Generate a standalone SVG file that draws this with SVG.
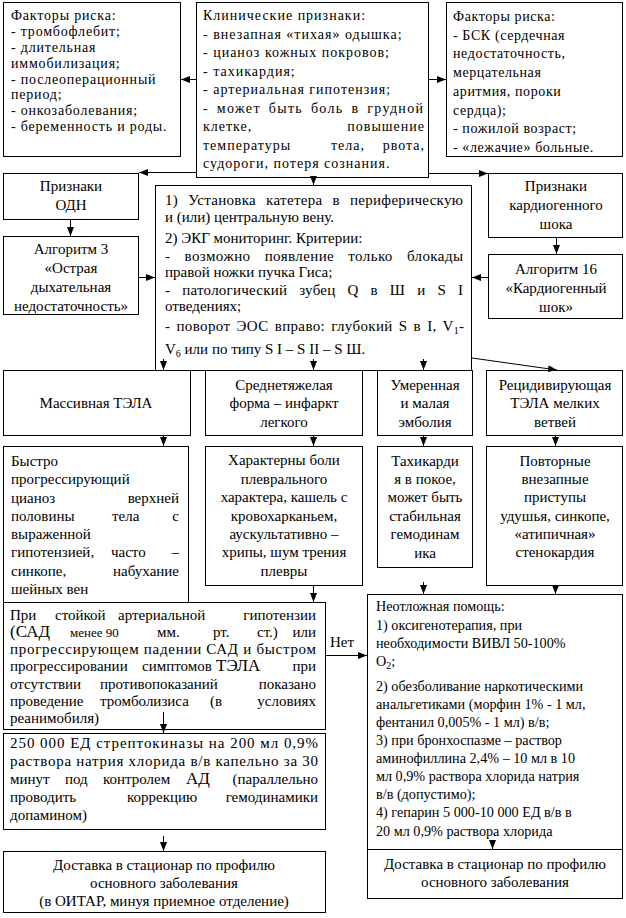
<svg xmlns="http://www.w3.org/2000/svg" width="626" height="918" viewBox="0 0 626 918">
<style>
rect{fill:#fff;stroke:#000;stroke-width:1}
text{font-family:'Liberation Serif','Times New Roman',serif;font-size:15px;fill:#000}
.s14{font-size:14px}
.em{font-size:14.2px}
.c{text-anchor:middle}
.e{text-anchor:end}
.ln{stroke:#000;stroke-width:1;fill:none;marker-end:url(#ah)}
.b1{letter-spacing:0.8px}
.b2{letter-spacing:1px}
.b3{letter-spacing:0.6px}
</style>
<defs>
<marker id="ah" markerWidth="9" markerHeight="7" refX="9" refY="3.5" orient="auto" markerUnits="userSpaceOnUse"><path d="M0,0 L9,3.5 L0,7 z" fill="#000"/></marker>
</defs>
<rect x="0" y="0" width="626" height="918" style="stroke:none"/>

<g id="n-risk1">
<rect x="3.5" y="2.5" width="177" height="154"/>
<text class="s14 b1"><tspan x="11" y="20">Факторы риска:</tspan><tspan x="11" y="36">- тромбофлебит;</tspan><tspan x="11" y="52">- длительная</tspan><tspan x="11" y="68">иммобилизация;</tspan><tspan x="11" y="84">- послеоперационный</tspan><tspan x="11" y="99">период;</tspan><tspan x="11" y="115">- онкозаболевания;</tspan><tspan x="11" y="131">- беременность и роды.</tspan></text>
</g>

<g id="n-clinic">
<rect x="196.5" y="2.5" width="232" height="175"/>
<text class="s14 b2"><tspan x="203" y="20">Клинические признаки:</tspan><tspan x="203" y="38.5">- внезапная «тихая» одышка;</tspan><tspan x="203" y="57">- цианоз кожных покровов;</tspan><tspan x="203" y="75.5">- тахикардия;</tspan><tspan x="203" y="94">- артериальная гипотензия;</tspan></text>
<text class="s14 b2" x="203" y="112.5" word-spacing="3" textLength="221" lengthAdjust="spacing">- может быть боль в грудной</text>
<text class="s14 b2" x="203" y="131">клетке,</text>
<text class="s14 b2 e" x="425" y="131">повышение</text>
<text class="s14 b2" x="203" y="149.5">температуры</text>
<text class="s14 b2" x="331" y="149.5">тела,</text>
<text class="s14 b2 e" x="425" y="149.5">рвота,</text>
<text class="s14 b2" x="203" y="168">судороги, потеря сознания.</text>
</g>

<g id="n-risk2">
<rect x="446.5" y="2.5" width="176" height="154"/>
<text class="s14 b3"><tspan x="453" y="21">Факторы риска:</tspan><tspan x="453" y="39.7">- БСК (сердечная</tspan><tspan x="453" y="58.4">недостаточность,</tspan><tspan x="453" y="77">мерцательная</tspan><tspan x="453" y="95.8">аритмия, пороки</tspan><tspan x="453" y="114.5">сердца);</tspan><tspan x="453" y="133">- пожилой возраст;</tspan><tspan x="453" y="152">- «лежачие» больные.</tspan></text>
</g>

<g id="n-odn">
<rect x="3.5" y="173.5" width="135" height="46"/>
<text class="c"><tspan x="71" y="191">Признаки</tspan><tspan x="71" y="210">ОДН</tspan></text>
</g>

<g id="n-alg3">
<rect x="3.5" y="236.5" width="135" height="78"/>
<text class="c"><tspan x="71" y="254">Алгоритм 3</tspan><tspan x="71" y="273">«Острая</tspan><tspan x="71" y="292">дыхательная</tspan><tspan x="71" y="311">недостаточность»</tspan></text>
</g>

<g id="n-actions">
<rect x="155.5" y="185.5" width="316" height="185"/>
<text x="165" y="205" word-spacing="6" textLength="298" lengthAdjust="spacing">1) Установка катетера в периферическую</text>
<text x="165" y="222">и (или) центральную вену.</text>
<text x="165" y="243">2) ЭКГ мониторинг. Критерии:</text>
<text x="165" y="261" word-spacing="10" textLength="298" lengthAdjust="spacing">- возможно появление только блокады</text>
<text x="165" y="277">правой ножки пучка Гиса;</text>
<text x="165" y="295" word-spacing="8" textLength="298" lengthAdjust="spacing">- патологический зубец Q в Ш и S I</text>
<text x="165" y="311">отведениях;</text>
<text x="165" y="331" word-spacing="2" textLength="299" lengthAdjust="spacing">- поворот ЭОС вправо: глубокий S в I, V<tspan font-size="10" dy="3">1</tspan><tspan dy="-3">-</tspan></text>
<text x="165" y="354">V<tspan font-size="10" dy="3">6</tspan><tspan dy="-3"> или по типу S I – S II – S Ш.</tspan></text>
</g>

<g id="n-cshock">
<rect x="488.5" y="173.5" width="134" height="64"/>
<text class="c"><tspan x="556" y="191">Признаки</tspan><tspan x="556" y="210">кардиогенного</tspan><tspan x="556" y="229">шока</tspan></text>
</g>

<g id="n-alg16">
<rect x="488.5" y="254.5" width="134" height="64"/>
<text class="c"><tspan x="556" y="274">Алгоритм 16</tspan><tspan x="556" y="293">«Кардиогенный</tspan><tspan x="556" y="312">шок»</tspan></text>
</g>

<g id="n-massive">
<rect x="3.5" y="370.5" width="187" height="65"/>
<text class="c" x="96" y="408">Массивная ТЭЛА</text>
</g>

<g id="n-submassive">
<rect x="205.5" y="370.5" width="157" height="65"/>
<text class="c"><tspan x="284" y="390">Среднетяжелая</tspan><tspan x="284" y="408">форма – инфаркт</tspan><tspan x="284" y="427">легкого</tspan></text>
</g>

<g id="n-small">
<rect x="377.5" y="370.5" width="95" height="65"/>
<text class="c"><tspan x="425" y="390">Умеренная</tspan><tspan x="425" y="408">и малая</tspan><tspan x="425" y="427">эмболия</tspan></text>
</g>

<g id="n-recurrent">
<rect x="486.5" y="370.5" width="136" height="65"/>
<text class="c"><tspan x="555" y="390">Рецидивирующая</tspan><tspan x="555" y="408">ТЭЛА мелких</tspan><tspan x="555" y="427">ветвей</tspan></text>
</g>

<g id="n-massive-sx">
<rect x="3.5" y="446.5" width="185" height="156"/>
<text x="11" y="466">Быстро</text>
<text x="11" y="484">прогрессирующий</text>
<text x="11" y="503">цианоз</text>
<text class="e" x="179" y="503">верхней</text>
<text x="11" y="521">половины</text>
<text x="112" y="521">тела</text>
<text class="e" x="179" y="521">с</text>
<text x="11" y="539">выраженной</text>
<text x="11" y="557">гипотензией,</text>
<text x="111" y="557">часто</text>
<text class="e" x="179" y="557">–</text>
<text x="11" y="576">синкопе,</text>
<text class="e" x="179" y="576">набухание</text>
<text x="11" y="594">шейных вен</text>
</g>

<g id="n-submassive-sx">
<rect x="205.5" y="446.5" width="157" height="139"/>
<text class="c"><tspan x="284" y="465">Характерны боли</tspan><tspan x="284" y="484">плеврального</tspan><tspan x="284" y="502">характера, кашель с</tspan><tspan x="284" y="521">кровохарканьем,</tspan><tspan x="284" y="539">аускультативно –</tspan><tspan x="284" y="557">хрипы, шум трения</tspan><tspan x="284" y="576">плевры</tspan></text>
</g>

<g id="n-small-sx">
<rect x="377.5" y="446.5" width="95" height="121"/>
<text class="c"><tspan x="425" y="466">Тахикарди</tspan><tspan x="425" y="484">я в покое,</tspan><tspan x="425" y="502">может быть</tspan><tspan x="425" y="521">стабильная</tspan><tspan x="425" y="539">гемодинам</tspan><tspan x="425" y="558">ика</tspan></text>
</g>

<g id="n-recurrent-sx">
<rect x="486.5" y="446.5" width="136" height="139"/>
<text class="c"><tspan x="555" y="466">Повторные</tspan><tspan x="555" y="484">внезапные</tspan><tspan x="555" y="502">приступы</tspan><tspan x="555" y="521">удушья, синкопе,</tspan><tspan x="555" y="539">«атипичная»</tspan><tspan x="555" y="557">стенокардия</tspan></text>
</g>

<g id="n-thrombolysis">
<rect x="3.5" y="602.5" width="322" height="127"/>
<text y="620"><tspan x="10">При</tspan><tspan x="55">стойкой</tspan><tspan x="118">артериальной</tspan></text>
<text class="e" x="316" y="620">гипотензии</text>
<text y="637"><tspan x="10" font-size="17">(САД</tspan><tspan x="70" font-size="13">менее 90</tspan><tspan x="157">мм.</tspan><tspan x="213">рт.</tspan><tspan x="257">ст.)</tspan></text>
<text class="e" x="316" y="637">или</text>
<text x="10" y="654" textLength="306" lengthAdjust="spacing">прогрессирующем падении САД и быстром</text>
<text y="671"><tspan x="10">прогрессировании</tspan><tspan x="142">симптомов</tspan><tspan x="216" font-size="17">ТЭЛА</tspan></text>
<text class="e" x="316" y="671">при</text>
<text y="689"><tspan x="10">отсутствии</tspan><tspan x="100">противопоказаний</tspan></text>
<text class="e" x="316" y="689">показано</text>
<text y="706"><tspan x="10">проведение</tspan><tspan x="100">тромболизиса</tspan><tspan x="210">(в</tspan></text>
<text class="e" x="316" y="706">условиях</text>
<text x="10" y="723">реанимобиля)</text>
</g>

<g id="n-streptokinase">
<rect x="3.5" y="733.5" width="322" height="96"/>
<text x="10" y="748" textLength="308" lengthAdjust="spacing">250 000 ЕД стрептокиназы на 200 мл 0,9%</text>
<text x="10" y="766" textLength="308" lengthAdjust="spacing">раствора натрия хлорида в/в капельно за 30</text>
<text y="784"><tspan x="10">минут</tspan><tspan x="65">под</tspan><tspan x="103">контролем</tspan><tspan x="186" font-size="17">АД</tspan></text>
<text class="e" x="318" y="784">(параллельно</text>
<text y="802"><tspan x="10">проводить</tspan><tspan x="127">коррекцию</tspan></text>
<text class="e" x="318" y="802">гемодинамики</text>
<text x="10" y="820">допамином)</text>
</g>

<g id="n-delivery1">
<rect x="3.5" y="851.5" width="322" height="61"/>
<text class="c"><tspan x="164" y="870">Доставка в стационар по профилю</tspan><tspan x="164" y="888">основного заболевания</tspan><tspan x="164" y="906">(в ОИТАР, минуя приемное отделение)</tspan></text>
</g>

<g id="n-emergency">
<rect x="367.5" y="594.5" width="255" height="255"/>
<text class="em"><tspan x="376" y="611">Неотложная помощь:</tspan><tspan x="376" y="630">1) оксигенотерапия, при</tspan><tspan x="376" y="648">необходимости ВИВЛ 50-100%</tspan><tspan x="376" y="666">O</tspan><tspan font-size="10" dy="3">2</tspan><tspan dy="-3">;</tspan><tspan x="376" y="691">2) обезболивание наркотическими</tspan><tspan x="376" y="709">анальгетиками (морфин 1% - 1 мл,</tspan><tspan x="376" y="727">фентанил 0,005%  - 1 мл) в/в;</tspan><tspan x="376" y="745">3) при бронхоспазме – раствор</tspan><tspan x="376" y="763">аминофиллина 2,4% – 10 мл в 10</tspan><tspan x="376" y="781">мл 0,9% раствора хлорида натрия</tspan><tspan x="376" y="799">в/в (допустимо);</tspan><tspan x="376" y="817">4) гепарин 5 000-10 000 ЕД в/в в</tspan><tspan x="376" y="836">20 мл 0,9% раствора хлорида</tspan></text>
</g>

<g id="n-delivery2">
<rect x="367.5" y="849.5" width="255" height="49"/>
<text class="c"><tspan x="495" y="869">Доставка в стационар по профилю</tspan><tspan x="495" y="887">основного заболевания</tspan></text>
</g>

<g id="connectors">
<line class="ln" x1="196" y1="79.5" x2="181" y2="79.5"/>
<line class="ln" x1="429" y1="79.5" x2="446" y2="79.5"/>
<line class="ln" x1="196" y1="172.5" x2="139" y2="172.5"/>
<line class="ln" x1="429" y1="173.5" x2="488" y2="173.5"/>
<line class="ln" x1="313.5" y1="178" x2="313.5" y2="185"/>
<line class="ln" x1="70.5" y1="220" x2="70.5" y2="236"/>
<line class="ln" x1="139" y1="277.5" x2="155" y2="277.5"/>
<line class="ln" x1="556.5" y1="238" x2="556.5" y2="254"/>
<line class="ln" x1="488" y1="277.5" x2="472" y2="277.5"/>
<line class="ln" x1="163.5" y1="359" x2="163.5" y2="370"/>
<line class="ln" x1="313.5" y1="359" x2="313.5" y2="370"/>
<line class="ln" x1="423.5" y1="359" x2="423.5" y2="370"/>
<line class="ln" x1="472" y1="358" x2="557" y2="370"/>
<line class="ln" x1="163.5" y1="436" x2="163.5" y2="446"/>
<line class="ln" x1="313.5" y1="436" x2="313.5" y2="446"/>
<line class="ln" x1="423.5" y1="436" x2="423.5" y2="446"/>
<line class="ln" x1="555.5" y1="436" x2="555.5" y2="446"/>
<line class="ln" x1="313.5" y1="586" x2="313.5" y2="602"/>
<line class="ln" x1="423.5" y1="582" x2="423.5" y2="594"/>
<line class="ln" x1="555.5" y1="586" x2="555.5" y2="594"/>
<line class="ln" x1="326" y1="655.5" x2="367" y2="655.5"/>
<text x="330" y="647">Нет</text>
<line class="ln" x1="163.5" y1="712" x2="163.5" y2="733"/>
<line class="ln" x1="163.5" y1="836" x2="163.5" y2="851"/>
<line class="ln" x1="492.5" y1="840" x2="492.5" y2="849"/>
</g>
</svg>
